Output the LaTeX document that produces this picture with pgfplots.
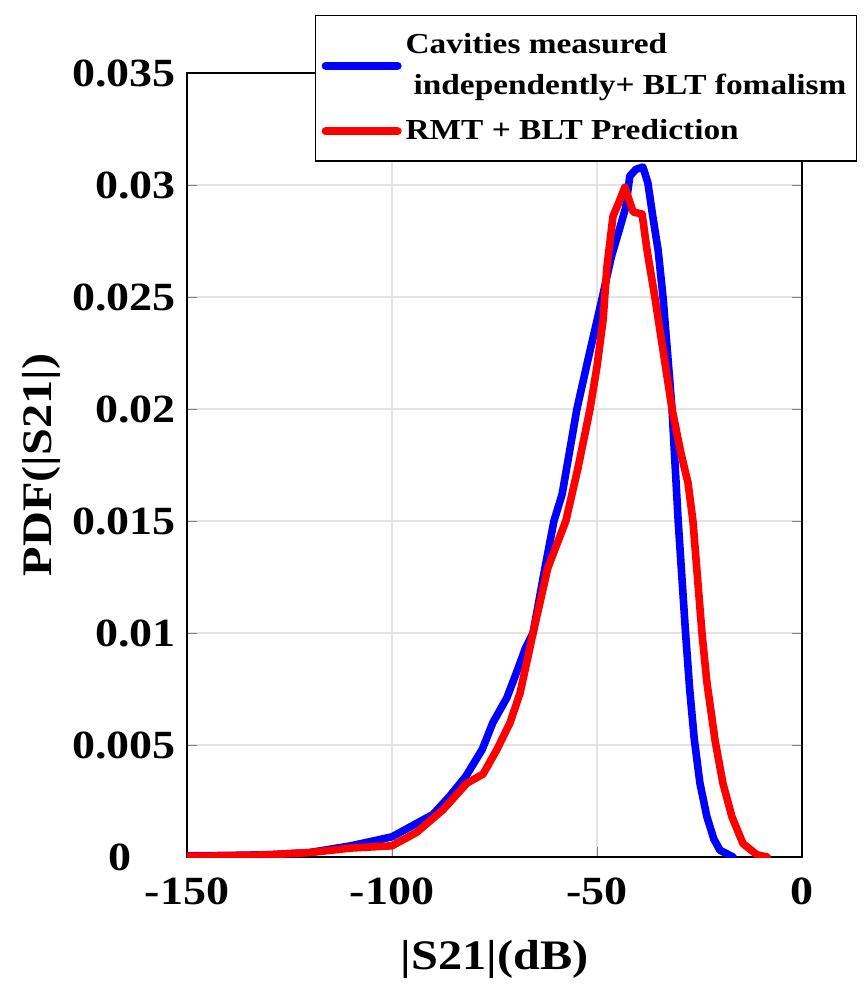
\documentclass[border=0pt]{standalone}
\usepackage{pgfplots}
\pgfplotsset{compat=1.18}
\usepackage{fontspec}
\setmainfont{Liberation Serif}[FakeStretch=1.15]
\begin{document}
\begin{tikzpicture}
\useasboundingbox (-93.5pt,-63.5pt) rectangle (340pt,428.5pt);
\begin{axis}[
  scale only axis,
  width=307.5pt, height=392pt,
  xmin=-150, xmax=0, ymin=0, ymax=0.035,
  scaled y ticks=false,
  xtick={-150,-100,-50,0},
  xticklabels={-150,-100,-50,0},
  ytick={0,0.005,0.01,0.015,0.02,0.025,0.03,0.035},
  yticklabels={0\hspace*{22pt},0.005,0.01,0.015,0.02,0.025,0.03,0.035},
  tick align=inside,
  tick pos=both,
  major tick length=5pt,
  grid=major,
  major grid style={gray!22, line width=0.6pt},
  axis line style={black, line width=0.7pt},
  ticklabel style={font=\fontsize{20}{24}\selectfont\bfseries},
  xticklabel style={yshift=-7pt},
  yticklabel style={xshift=-2pt},
  xlabel={|S21|(dB)},
  ylabel={PDF(|S21|)},
  label style={font=\fontsize{21}{26}\selectfont\bfseries},
  xlabel style={yshift=-11pt},
  ylabel style={yshift=-1pt},
  legend style={at={(0.208,1.074)}, anchor=north west, draw=black, line width=0.7pt,
     font=\fontsize{14.5}{20.5}\selectfont\bfseries, cells={anchor=west, align=left},
     inner xsep=3pt, inner ysep=7pt, row sep=7pt},
  legend image code/.code={\draw[#1, line width=4pt] (0pt,0pt) -- (36pt,0pt);},
  every axis plot/.append style={line width=3.8pt, line join=round, line cap=round},
]
\addplot[blue, mark=none] coordinates {
(-150,0.00005) (-140,0.00007) (-130,0.0001) (-120,0.0002) (-110,0.0005) (-105,0.0007)
(-100,0.0009) (-95,0.0014) (-90,0.0019) (-86,0.0027) (-82,0.0036) (-78,0.0048)
(-75.4,0.006) (-72,0.0071) (-69.5,0.0083) (-67.5,0.0093) (-65.6,0.0100) (-62.7,0.0129)
(-60.5,0.015) (-58.5,0.0162) (-54.9,0.02) (-52.2,0.0222) (-48.8,0.0249) (-46.5,0.0268)
(-44.4,0.0281) (-43,0.029) (-42,0.0304) (-40.5,0.0307) (-38.8,0.0308) (-37.6,0.0301)
(-36.4,0.0286) (-35.1,0.0271) (-33.9,0.025) (-31.7,0.02) (-30.2,0.015) (-28.4,0.01)
(-27.4,0.0075) (-26.3,0.0053) (-24.9,0.0033) (-23.2,0.0018) (-21.5,0.0008) (-20,0.0003) (-16.8,0)
};
\addlegendentry{Cavities measured\\\hspace*{4pt}independently+ BLT fomalism}
\addplot[red, mark=none] coordinates {
(-150,0.00003) (-140,0.00005) (-130,0.0001) (-120,0.0002) (-110,0.0004) (-100,0.0005)
(-94,0.0011) (-87.6,0.0021) (-81.7,0.0033) (-77.8,0.0037) (-74.4,0.0048) (-71.2,0.006)
(-68.8,0.0073) (-67,0.0088) (-65.6,0.01) (-62,0.0129) (-57.6,0.015) (-54.6,0.0174)
(-51.7,0.02) (-50,0.0219) (-48.5,0.024) (-47.6,0.0263) (-46.1,0.0286) (-44.5,0.0293)
(-43.2,0.0299) (-41.2,0.0288) (-39,0.0287) (-37.8,0.0271) (-35.9,0.025) (-33.8,0.0225)
(-31.7,0.02) (-29.5,0.018) (-27.8,0.0167) (-26.6,0.015) (-25.5,0.0125) (-24.4,0.01)
(-23.2,0.0078) (-21.2,0.0052) (-19.3,0.0033) (-17.1,0.0018) (-14.4,0.0006) (-11,0.0001) (-8.5,0)
};
\addlegendentry{RMT + BLT Prediction}
\end{axis}
\end{tikzpicture}
\end{document}
